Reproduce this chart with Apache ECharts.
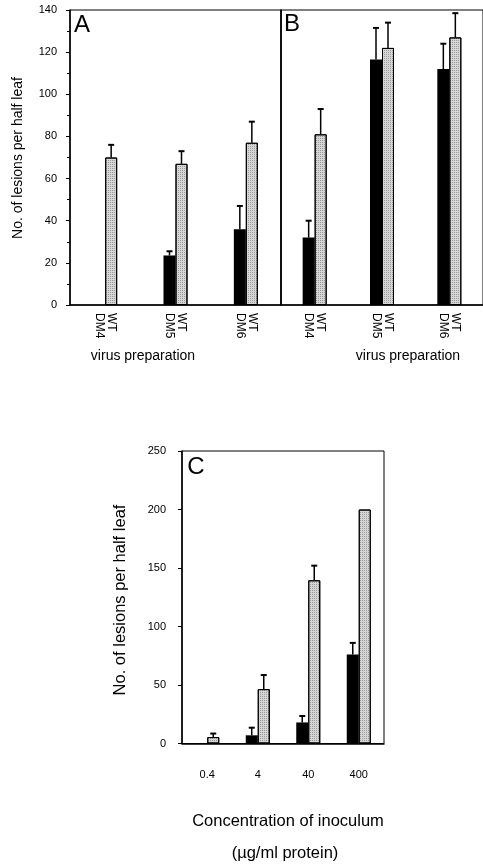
<!DOCTYPE html>
<html>
<head>
<meta charset="utf-8">
<script src="https://cdn.jsdelivr.net/npm/echarts@6/dist/echarts.min.js"></script>
<style>
html,body{margin:0;padding:0;background:#fff;}
#chart{width:483px;height:864px;}
</style>
</head>
<body>
<div id="chart"></div>
<script>
// ---- data ----
const catsAB = ['DM4', 'DM5', 'DM6'];
const aDM    = [null, 23.5, 36];
const aDMErr = [null, 2, 11];
const aWT    = [70, 67, 77];
const aWTErr = [6, 6, 10];
const bDM    = [32, 116.5, 112];
const bDMErr = [8, 15, 12];
const bWT    = [81, 122, 127];
const bWTErr = [12, 12, 11.5];
const catsC  = ['0.4', '4', '40', '400'];
const cDM    = [null, 7, 18, 76];
const cDMErr = [null, 6.5, 5.5, 10];
const cWT    = [5.5, 46.5, 139.5, 200];
const cWTErr = [3, 12, 12.5, null];
const yAB = { min: 0, max: 140, step: 20 };
const yC  = { min: 0, max: 250, step: 50 };

// ---- styling ----
const FONT = 'Liberation Sans';
const BAR_W = 12;
const black = { color: '#000' };
const grey = {
  color: '#d6d6d6', borderColor: '#000', borderWidth: 1,
  decal: { symbol: 'rect', symbolSize: 1, dashArrayX: [1, 1], dashArrayY: [1, 1], color: 'rgba(0,0,0,0.28)' }
};

function barSeries(ax, data, style) {
  return { type: 'bar', xAxisIndex: ax, yAxisIndex: ax, data: data, barWidth: BAR_W, barGap: '0%',
           itemStyle: style, silent: true, animation: false };
}
function errSeries(ax, vals, errs, side) {
  return {
    type: 'custom', xAxisIndex: ax, yAxisIndex: ax, animation: false, silent: true, z: 3,
    data: vals.map((v, i) => [i, v, errs[i]]),
    renderItem: function (params, api) {
      const v = api.value(1), e = api.value(2);
      if (!e || isNaN(v) || isNaN(e)) return;
      const base = api.coord([api.value(0), v]);
      const top = api.coord([api.value(0), v + e]);
      const x = base[0] + side * BAR_W / 2;
      return { type: 'group', children: [
        { type: 'line', shape: { x1: x, y1: base[1], x2: x, y2: top[1] }, style: { stroke: '#000', lineWidth: 1.5 } },
        { type: 'line', shape: { x1: x - 3, y1: top[1], x2: x + 3, y2: top[1] }, style: { stroke: '#000', lineWidth: 2 } }
      ]};
    }
  };
}
function xCat(ax, cats, isC) {
  return {
    type: 'category', gridIndex: ax, data: cats,
    axisLine: { lineStyle: { color: '#000', width: 1.5 } },
    axisTick: { alignWithLabel: true, interval: 0, length: isC ? 13 : 9, lineStyle: { color: '#000', width: 1 } },
    axisLabel: isC
      ? { interval: 0, fontFamily: FONT, fontSize: 11, color: '#000', margin: 26 }
      : { interval: 0, rotate: -90, fontFamily: FONT, fontSize: 12, lineHeight: 12, color: '#000', margin: 8,
          formatter: v => 'WT\n' + v },
    splitLine: { show: false }
  };
}
function yVal(ax, r, opts) {
  return Object.assign({
    type: 'value', gridIndex: ax, min: r.min, max: r.max, interval: r.step,
    axisLine: { show: true, lineStyle: { color: '#000', width: 1.5 } },
    axisTick: { show: true, length: 4, lineStyle: { color: '#000' } },
    axisLabel: { fontFamily: FONT, fontSize: 11, color: '#000', margin: 13 },
    splitLine: { show: false }
  }, opts || {});
}
function txt(x, y, s, size, rot) {
  return { type: 'text', x: x, y: y, rotation: rot || 0, silent: true,
           style: { text: s, fontFamily: FONT, fontSize: size, fill: '#000', textAlign: 'center', textVerticalAlign: 'middle' } };
}

const chart = echarts.init(document.getElementById('chart'), null, { renderer: 'canvas' });
chart.setOption({
  backgroundColor: '#fff',
  animation: false,
  grid: [
    { left: 70, top: 10, width: 211, height: 295, show: true, borderColor: '#000', borderWidth: 1 },
    { left: 281, top: 10, width: 210, height: 295, show: true, borderColor: '#000', borderWidth: 1 },
    { left: 182, top: 451, width: 202, height: 292.5, show: true, borderColor: '#000', borderWidth: 1 }
  ],
  xAxis: [ xCat(0, catsAB, false), xCat(1, catsAB, false), xCat(2, catsC, true) ],
  yAxis: [
    yVal(0, yAB, { minorTick: { show: true, splitNumber: 2, length: 3, lineStyle: { color: '#000' } } }),
    yVal(1, yAB, { axisTick: { show: false }, axisLabel: { show: false } }),
    yVal(2, yC, { axisLabel: { fontFamily: FONT, fontSize: 11, color: '#000', margin: 16 } })
  ],
  series: [
    barSeries(0, aDM, black), barSeries(0, aWT, grey),
    errSeries(0, aDM, aDMErr, -1), errSeries(0, aWT, aWTErr, 1),
    barSeries(1, bDM, black), barSeries(1, bWT, grey),
    errSeries(1, bDM, bDMErr, -1), errSeries(1, bWT, bWTErr, 1),
    barSeries(2, cDM, black), barSeries(2, cWT, grey),
    errSeries(2, cDM, cDMErr, -1), errSeries(2, cWT, cWTErr, 1)
  ],
  graphic: [
    txt(82, 25, 'A', 24), txt(292, 24, 'B', 24), txt(196, 467, 'C', 24),
    txt(18, 158, 'No. of lesions per half leaf', 14, Math.PI / 2),
    txt(143, 356, 'virus preparation', 14),
    txt(408, 356, 'virus preparation', 14),
    txt(120, 600, 'No. of lesions per half leaf', 16.5, Math.PI / 2),
    txt(288, 821, 'Concentration of inoculum', 16.5),
    txt(285, 853, '(µg/ml protein)', 16.5)
  ]
});
</script>
</body>
</html>
